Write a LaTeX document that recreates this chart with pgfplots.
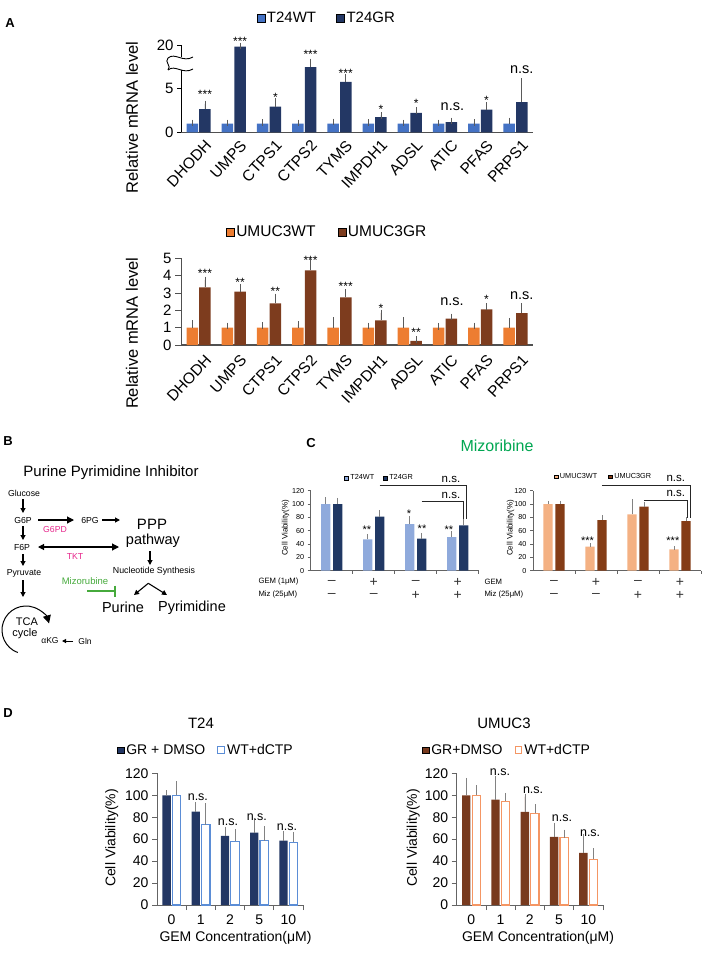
\documentclass[border=0pt]{standalone}
\usepackage{pgfplots}
\pgfplotsset{compat=1.18}
\usepackage{pgfplotstable}
\usepackage{fontspec}
\setmainfont{Liberation Sans}
\usetikzlibrary{arrows.meta}
\newcommand\fs[1]{\fontsize{#1}{#1}\selectfont}
\definecolor{awt}{RGB}{68,114,196}
\definecolor{agr}{RGB}{35,55,100}
\definecolor{uwt}{RGB}{237,125,49}
\definecolor{ugr}{RGB}{125,60,30}
\definecolor{cwt}{RGB}{143,170,220}
\definecolor{cgr}{RGB}{32,56,100}
\definecolor{cuwt}{RGB}{244,177,131}
\definecolor{cugr}{RGB}{132,60,22}
\definecolor{dgr}{RGB}{35,55,100}
\definecolor{dwt}{RGB}{91,141,214}
\definecolor{dugr}{RGB}{120,58,30}
\definecolor{duwt}{RGB}{244,150,100}
\definecolor{mag}{RGB}{230,40,140}
\definecolor{grn}{RGB}{70,170,60}
\definecolor{mizg}{RGB}{0,166,81}
\definecolor{axA}{RGB}{80,80,80}
\definecolor{axC}{RGB}{100,100,100}
\definecolor{ebc}{RGB}{90,90,90}
\definecolor{ebl}{RGB}{130,130,130}

% Panel A, T24 (values above 5 drawn on the compressed 1:3 segment of the broken axis)
\pgfplotstableread{
x wt wte gr gre
0 1 0.08 2.65 0.62
1 1 0.08 9.84 0.08
2 1 0.12 2.95 0.60
3 1 0.08 7.50 0.60
4 1 0.20 5.80 0.52
5 1 0.10 1.74 0.20
6 1 0.08 2.23 0.30
7 1 0.08 1.17 0.15
8 1 0.10 2.61 0.46
9 1 0.32 3.48 2.35
}\tAt
% Panel A, UMUC3
\pgfplotstableread{
x wt wte gr gre
0 1 0.25 3.33 0.42
1 1 0.10 3.08 0.25
2 1 0.12 2.40 0.37
3 1 0.18 4.31 0.48
4 1 0.42 2.75 0.27
5 1 0.10 1.42 0.43
6 1 0.42 0.24 0.08
7 1 0.08 1.52 0.10
8 1 0.10 2.06 0.15
9 1 0.37 1.84 0.38
}\tAb
% Panel C
\pgfplotstableread{
x wt wte gr gre
0 100 8 100 7
1 47 6 81 7
2 70 9 48 6.5
3 50.5 6 68 9
}\tCl
\pgfplotstableread{
x wt wte gr gre
0 100 2.5 100 2.5
1 36 2.5 76 5
2 84.5 20 96 5
3 32 2 74.5 3
}\tCr
% Panel D
\pgfplotstableread{
x gr gre wt wte
0 100 2 100 10
1 85 6 73 17
2 63 5 58 8.5
3 66 11 58.7 10.5
4 58.7 5.7 57 7
}\tDl
\pgfplotstableread{
x gr gre wt wte
0 100 13 100 6.5
1 96 19 94.5 5
2 84.8 14 83.6 5.5
3 62 10.3 61.4 4.6
4 47.4 15 41.6 7.3
}\tDr

\pgfplotsset{
  /pgf/number format/assume math mode=true,
  base/.style={scale only axis, clip=false, enlargelimits=false,
    axis lines=left, axis line style={-},
    every outer x axis line/.append style={-}, every outer y axis line/.append style={-},
    tick align=outside, legend cell align=left},
  sqA/.style={legend image code/.code={\filldraw[##1] (0pt,-4pt) rectangle (8pt,4pt);}},
  sqC/.style={legend image code/.code={\filldraw[##1] (0pt,-1.8pt) rectangle (3.6pt,1.8pt);}},
  sqD/.style={legend image code/.code={\filldraw[##1] (0.6pt,-3.3pt) rectangle (7.2pt,3.3pt);}},
  eb/.style={error bars/y dir=plus, error bars/y explicit,
    error bars/error bar style={draw=ebc, line width=0.7pt},
    error bars/error mark options={draw=ebc, line width=0.7pt, mark size=#1}},
  ebg/.style={error bars/y dir=plus, error bars/y explicit,
    error bars/error bar style={draw=ebl, line width=0.7pt},
    error bars/error mark options={draw=ebl, line width=0.7pt, mark size=#1}},
  genes/.style={xtick={0,...,9}, xticklabels={DHODH,UMPS,CTPS1,CTPS2,TYMS,IMPDH1,ADSL,ATIC,PFAS,PRPS1},
    x tick label style={rotate=47, anchor=north east, font=\fs{15.5}, inner sep=1pt, xshift=3pt, yshift=-5pt}},
}
\tikzset{
  stA/.style={font=\fs{12}, inner sep=0pt, yshift=-2pt},
  nsA/.style={font=\fs{14.5}, inner sep=0pt},
  stC/.style={font=\fs{11}, inner sep=0pt, yshift=-2pt},
  nsC/.style={font=\fs{11.5}, inner sep=0pt},
  nsD/.style={font=\fs{12.5}, inner sep=0pt},
  sg/.style={font=\fs{14}, inner sep=0pt, text=black!80},
  ar/.style={line width=1.1pt, -{Triangle[length=5pt,width=5pt]}},
}

\begin{document}
\begin{tikzpicture}
\path[use as bounding box] (0pt,0pt) rectangle (709pt,-960pt);

% ---------------- Panel A top ----------------
\begin{axis}[base, genes, at={(181pt,-132.3pt)}, anchor=south west, width=352pt, height=87pt,
  xmin=-0.5, xmax=9.5, ymin=0, ymax=10,
  ybar=1.2pt, bar width=11.5pt,
  ytick={0,5,10}, yticklabels={0,5,20},
  y tick label style={font=\fs{15}},
  xtick style={draw=none}, ytick style={draw=black, line width=0.8pt}, major tick length=4pt,
  x axis line style={draw=axA, line width=1.2pt}, y axis line style={draw=black, line width=0.9pt},
  legend style={at={(0.414,1.31)}, anchor=center, draw=none, fill=none, font=\fs{15},
    legend columns=2, /tikz/every even column/.append style={column sep=18pt}},
]
\addplot[fill=awt, draw=none, sqA, eb=3.3pt] table[x=x,y=wt,y error=wte]{\tAt};
\addlegendentry{T24WT}
\addplot[fill=agr, draw=none, sqA, eb=3.3pt] table[x=x,y=gr,y error=gre]{\tAt};
\addlegendentry{T24GR}
\node[stA] at (axis cs:0.18,4.6) {***};
\node[stA] at (axis cs:1.18,10.7) {***};
\node[stA] at (axis cs:2.18,4.3) {*};
\node[stA] at (axis cs:3.18,9.16) {***};
\node[stA] at (axis cs:4.18,6.97) {***};
\node[stA] at (axis cs:5.18,2.84) {*};
\node[stA] at (axis cs:6.18,3.56) {*};
\node[nsA] at (axis cs:7.21,2.91) {n.s.};
\node[stA] at (axis cs:8.18,3.86) {*};
\node[nsA] at (axis cs:9.18,7.2) {n.s.};
\end{axis}

% ---------------- Panel A bottom ----------------
\begin{axis}[base, genes, at={(181pt,-345pt)}, anchor=south west, width=352pt, height=86.7pt,
  xmin=-0.5, xmax=9.5, ymin=0, ymax=5,
  ybar=1.2pt, bar width=11.5pt,
  ytick={0,...,5},
  y tick label style={font=\fs{15}},
  xtick style={draw=none}, ytick style={draw=axA, line width=0.8pt}, major tick length=6pt,
  x axis line style={draw=axA, line width=1.2pt}, y axis line style={draw=axA, line width=0.9pt},
  legend style={at={(0.415,1.30)}, anchor=center, draw=none, fill=none, font=\fs{15.5},
    legend columns=2, /tikz/every even column/.append style={column sep=20pt}},
]
\addplot[fill=uwt, draw=none, sqA, eb=3.3pt] table[x=x,y=wt,y error=wte]{\tAb};
\addlegendentry{UMUC3WT}
\addplot[fill=ugr, draw=none, sqA, eb=3.3pt] table[x=x,y=gr,y error=gre]{\tAb};
\addlegendentry{UMUC3GR}
\node[stA] at (axis cs:0.18,4.25) {***};
\node[stA] at (axis cs:1.18,3.74) {**};
\node[stA] at (axis cs:2.18,3.2) {**};
\node[stA] at (axis cs:3.18,5.02) {***};
\node[stA] at (axis cs:4.18,3.49) {***};
\node[stA] at (axis cs:5.18,2.2) {*};
\node[stA] at (axis cs:6.18,0.86) {**};
\node[nsA] at (axis cs:7.2,2.49) {n.s.};
\node[stA] at (axis cs:8.18,2.72) {*};
\node[nsA] at (axis cs:9.18,2.82) {n.s.};
\end{axis}

% ---------------- Panel C left ----------------
\begin{axis}[base, at={(310.7pt,-570.7pt)}, anchor=south west, width=168pt, height=80pt,
  xmin=-0.5, xmax=3.5, ymin=0, ymax=120, ytick={0,20,...,120},
  ybar=2.7pt, bar width=9.3pt,
  xtick={0.5,1.5,2.5,3.5}, xticklabels={},
  y tick label style={font=\fs{7.2}},
  tick style={draw=axC, line width=0.6pt}, major tick length=3pt,
  axis line style={draw=axC, line width=0.8pt},
  legend style={at={(0.41,1.16)}, anchor=center, draw=none, fill=none, font=\fs{7.3},
    legend columns=2, /tikz/every even column/.append style={column sep=7pt}},
]
\addplot[fill=cwt, draw=none, sqC, ebg=1.6pt] table[x=x,y=wt,y error=wte]{\tCl};
\addlegendentry{T24WT}
\addplot[fill=cgr, draw=none, sqC, ebg=1.6pt] table[x=x,y=gr,y error=gre]{\tCl};
\addlegendentry{T24GR}
\node[stC] at (axis cs:0.84,64) {**};
\node[stC] at (axis cs:1.84,88) {*};
\node[stC] at (axis cs:2.15,65.5) {**};
\node[stC] at (axis cs:2.79,64) {**};
\draw[black!85, line width=0.9pt] (axis cs:1.14,127.5) -- (axis cs:3.22,127.5) -- (axis cs:3.22,78);
\draw[black!85, line width=0.9pt] (axis cs:2.14,104.5) -- (axis cs:3.13,104.5) -- (axis cs:3.13,78);
\node[nsC] at (axis cs:2.84,137.5) {n.s.};
\node[nsC] at (axis cs:2.84,113.5) {n.s.};
\node[sg] at (axis cs:0,-17) {–};
\node[sg] at (axis cs:1,-17) {+};
\node[sg] at (axis cs:2,-17) {–};
\node[sg] at (axis cs:3,-17) {+};
\node[sg] at (axis cs:0,-36.5) {–};
\node[sg] at (axis cs:1,-36.5) {–};
\node[sg] at (axis cs:2,-36.5) {+};
\node[sg] at (axis cs:3,-36.5) {+};
\end{axis}

% ---------------- Panel C right ----------------
\begin{axis}[base, at={(533pt,-570.7pt)}, anchor=south west, width=168pt, height=80pt,
  xmin=-0.5, xmax=3.5, ymin=0, ymax=120, ytick={0,20,...,120},
  ybar=2.7pt, bar width=9.3pt,
  xtick={0.5,1.5,2.5,3.5}, xticklabels={},
  y tick label style={font=\fs{7.2}},
  tick style={draw=axC, line width=0.6pt}, major tick length=3pt,
  axis line style={draw=axC, line width=0.8pt},
  legend style={at={(0.42,1.175)}, anchor=center, draw=none, fill=none, font=\fs{7.3},
    legend columns=2, /tikz/every even column/.append style={column sep=9pt}},
]
\addplot[fill=cuwt, draw=none, sqC, ebg=1.6pt] table[x=x,y=wt,y error=wte]{\tCr};
\addlegendentry{UMUC3WT}
\addplot[fill=cugr, draw=none, sqC, ebg=1.6pt] table[x=x,y=gr,y error=gre]{\tCr};
\addlegendentry{UMUC3GR}
\node[stC] at (axis cs:0.8,47.5) {***};
\node[stC] at (axis cs:2.83,47.5) {***};
\draw[black!85, line width=0.9pt] (axis cs:1.14,127.5) -- (axis cs:3.24,127.5) -- (axis cs:3.24,78.6);
\draw[black!85, line width=0.9pt] (axis cs:2.14,106) -- (axis cs:3.17,106) -- (axis cs:3.17,78.6);
\node[nsC] at (axis cs:2.9,138.6) {n.s.};
\node[nsC] at (axis cs:2.9,116) {n.s.};
\node[sg] at (axis cs:0,-17) {–};
\node[sg] at (axis cs:1,-17) {+};
\node[sg] at (axis cs:2,-17) {–};
\node[sg] at (axis cs:3,-17) {+};
\node[sg] at (axis cs:0,-36.5) {–};
\node[sg] at (axis cs:1,-36.5) {–};
\node[sg] at (axis cs:2,-36.5) {+};
\node[sg] at (axis cs:3,-36.5) {+};
\end{axis}

% ---------------- Panel D left ----------------
\begin{axis}[base, at={(157pt,-905pt)}, anchor=south west, width=146pt, height=131.7pt,
  xmin=-0.5, xmax=4.5, ymin=0, ymax=120, ytick={0,20,...,120},
  ybar=1.7pt, bar width=8.3pt,
  xtick={0.5,1.5,2.5,3.5,4.5}, xticklabels={},
  y tick label style={font=\fs{14}},
  tick style={draw=axC, line width=0.7pt}, major tick length=5pt,
  axis line style={draw=axC, line width=0.9pt},
  legend style={at={(0.336,1.177)}, anchor=center, draw=none, fill=none, font=\fs{14},
    legend columns=2, /tikz/every even column/.append style={column sep=10pt}},
]
\addplot[fill=dgr, draw=none, sqD, ebg=3pt] table[x=x,y=gr,y error=gre]{\tDl};
\addlegendentry{GR + DMSO}
\addplot[fill=white, draw=dwt, line width=1.2pt, sqD, ebg=3pt] table[x=x,y=wt,y error=wte]{\tDl};
\addlegendentry{WT+dCTP}
\node[nsD] at (axis cs:0.9,98.4) {n.s.};
\node[nsD] at (axis cs:1.93,75.6) {n.s.};
\node[nsD] at (axis cs:2.92,80.2) {n.s.};
\node[nsD] at (axis cs:3.95,71.1) {n.s.};
\node[font=\fs{14}] at (axis cs:0,-13.7) {0};
\node[font=\fs{14}] at (axis cs:1,-13.7) {1};
\node[font=\fs{14}] at (axis cs:2,-13.7) {2};
\node[font=\fs{14}] at (axis cs:3,-13.7) {5};
\node[font=\fs{14}] at (axis cs:4,-13.7) {10};
\end{axis}

% ---------------- Panel D right ----------------
\begin{axis}[base, at={(456.7pt,-905pt)}, anchor=south west, width=146.3pt, height=131.7pt,
  xmin=-0.5, xmax=4.5, ymin=0, ymax=120, ytick={0,20,...,120},
  ybar=1.7pt, bar width=8.3pt,
  xtick={0.5,1.5,2.5,3.5,4.5}, xticklabels={},
  y tick label style={font=\fs{14}},
  tick style={draw=axC, line width=0.7pt}, major tick length=5pt,
  axis line style={draw=axC, line width=0.9pt},
  legend style={at={(0.345,1.177)}, anchor=center, draw=none, fill=none, font=\fs{14},
    legend columns=2, /tikz/every even column/.append style={column sep=10pt}},
]
\addplot[fill=dugr, draw=none, sqD, ebg=3pt] table[x=x,y=gr,y error=gre]{\tDr};
\addlegendentry{GR+DMSO}
\addplot[fill=white, draw=duwt, line width=1.2pt, sqD, ebg=3pt] table[x=x,y=wt,y error=wte]{\tDr};
\addlegendentry{WT+dCTP}
\node[nsD] at (axis cs:0.98,121.2) {n.s.};
\node[nsD] at (axis cs:2.11,104.8) {n.s.};
\node[nsD] at (axis cs:3.1,79.3) {n.s.};
\node[nsD] at (axis cs:4.06,65.6) {n.s.};
\node[font=\fs{14}] at (axis cs:0,-13.7) {0};
\node[font=\fs{14}] at (axis cs:1,-13.7) {1};
\node[font=\fs{14}] at (axis cs:2,-13.7) {2};
\node[font=\fs{14}] at (axis cs:3,-13.7) {5};
\node[font=\fs{14}] at (axis cs:4,-13.7) {10};
\end{axis}

% ---------------- annotations in pixel coordinates ----------------
\begin{scope}[x=1pt,y=-1pt]
% panel letters
\node[font=\bfseries\fs{13}] at (10,23) {A};
\node[font=\bfseries\fs{13}] at (8,441) {B};
\node[font=\bfseries\fs{13}] at (311,443) {C};
\node[font=\bfseries\fs{13}] at (8,713) {D};

% A labels
\node[rotate=90, font=\fs{16.5}] at (132,117.5) {Relative mRNA level};
\node[rotate=90, font=\fs{16.5}] at (132,333.3) {Relative mRNA level};
% axis break
\fill[white] (166,57.5) rectangle (196,70);
\draw[line width=0.9pt] (168,58) .. controls (175,52) and (183,63) .. (193,57);
\draw[line width=0.9pt] (168,70) .. controls (175,64) and (183,75) .. (193,69);
\draw[line width=0.9pt] (168,58) .. controls (164,62) and (172,66) .. (168,70);

% Panel B diagram
\node[font=\fs{15}] at (111,473) {Purine Pyrimidine Inhibitor};
\node[font=\fs{8.7}] at (24,493) {Glucose};
\node[font=\fs{8.7}] at (23,520) {G6P};
\node[font=\fs{8.7}] at (90,520) {6PG};
\node[font=\fs{8.7}] at (22,547) {F6P};
\node[font=\fs{8.7}] at (24,573) {Pyruvate};
\node[font=\fs{15}] at (152,524) {PPP};
\node[font=\fs{14.5}] at (153,541) {pathway};
\node[font=\fs{8.7}, text=mag] at (55,529) {G6PD};
\node[font=\fs{8.7}, text=mag] at (75,557) {TKT};
\node[font=\fs{8.8}] at (154,571) {Nucleotide Synthesis};
\node[font=\fs{9.5}, text=grn] at (85,581) {Mizorubine};
\node[font=\fs{14.5}] at (123,607) {Purine};
\node[font=\fs{14.5}] at (192,608) {Pyrimidine};
\node[font=\fs{11}] at (27,622) {TCA};
\node[font=\fs{11}] at (25,634) {cycle};
\node[font=\fs{8.5}] at (50,641) {αKG};
\node[font=\fs{8.5}] at (85,641) {Gln};
\draw[ar] (23,499) -- (23,513);
\draw[line width=1.1pt, -{Triangle[length=7pt,width=7pt]}] (38,520) -- (74,520);
\draw[ar] (102,520) -- (120,520);
\draw[ar] (23,526) -- (23,540);
\draw[line width=1.1pt, {Triangle[length=6pt,width=6pt]}-{Triangle[length=7pt,width=7pt]}] (38,547) -- (119,547);
\draw[ar] (23,554) -- (23,566);
\draw[ar] (23,580) -- (23,597);
\draw[ar] (150,551) -- (150,565);
\draw[grn, line width=1.1pt] (87,591) -- (115,591);
\draw[grn, line width=1.1pt] (115,585.5) -- (115,596.5);
\draw[ar] (148.3,583.3) -- (134,595);
\draw[ar] (148.3,583.3) -- (167,595);
\draw[line width=1pt, -{Triangle[length=8pt,width=8pt]}] (26,630) ++(-250:24) arc[start angle=-250, end angle=-16, radius=24];
\draw[line width=1pt, -{Triangle[length=4pt,width=4pt]}] (73,641) -- (62,641);

% Panel C texts
\node[font=\fs{16}, text=mizg] at (497,446) {Mizoribine};
\node[rotate=90, font=\fs{8}] at (285.5,528) {Cell Viability(\%)};
\node[rotate=90, font=\fs{8}] at (510.5,528) {Cell Viability(\%)};
\node[anchor=west, font=\fs{7.7}] at (255,582) {GEM (1μM)};
\node[anchor=west, font=\fs{7.7}] at (255,595) {Miz (25μM)};
\node[anchor=west, font=\fs{7.7}] at (481,582) {GEM};
\node[anchor=west, font=\fs{7.7}] at (481,595) {Miz (25μM)};

% Panel D texts
\node[font=\fs{15}] at (201,723) {T24};
\node[font=\fs{15}] at (504,723) {UMUC3};
\node[rotate=90, font=\fs{14}] at (111.7,838) {Cell Viability(\%)};
\node[rotate=90, font=\fs{14}] at (413.3,838) {Cell Viability(\%)};
\node[font=\fs{14}] at (235.5,938) {GEM Concentration(μM)};
\node[font=\fs{14}] at (538,938) {GEM Concentration(μM)};
\end{scope}
\end{tikzpicture}
\end{document}
